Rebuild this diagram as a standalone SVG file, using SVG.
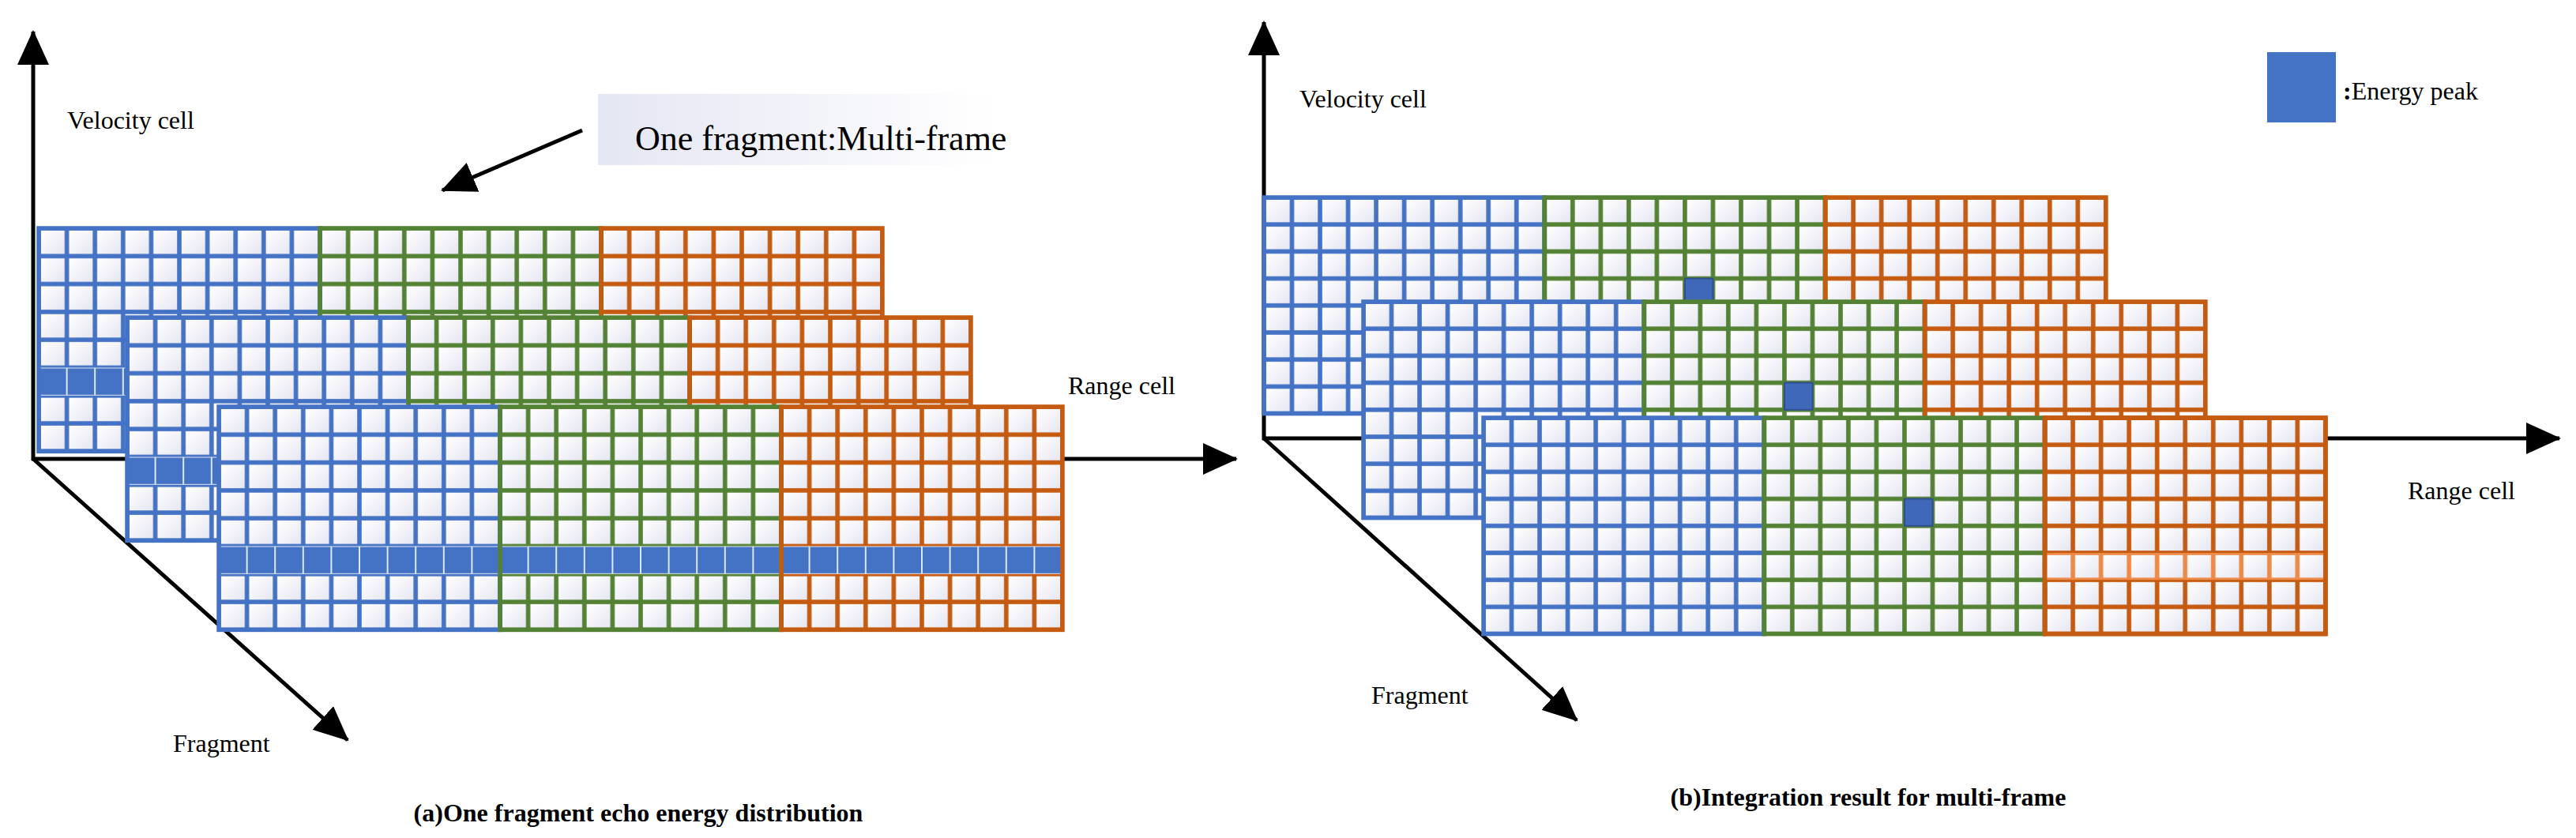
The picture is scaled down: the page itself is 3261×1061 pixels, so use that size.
<svg xmlns="http://www.w3.org/2000/svg" width="3261" height="1061" viewBox="0 0 3261 1061">
<style>
text{fill:#000}
.lbl{font-size:32px}
.cap{font-size:32px;font-weight:bold}
.ax{stroke:#000;stroke-width:5;fill:none}
</style>
<defs>
<linearGradient id="cellg" x1="0" y1="0" x2="1" y2="1"><stop offset="0" stop-color="#ffffff"/><stop offset="1" stop-color="#e6e6f2"/></linearGradient>
<linearGradient id="boxg" x1="0" y1="0" x2="1" y2="0"><stop offset="0" stop-color="#e4e6f3"/><stop offset="1" stop-color="#ffffff"/></linearGradient>
<marker id="ah" markerWidth="44" markerHeight="40" refX="42" refY="20" orient="auto" markerUnits="userSpaceOnUse" viewBox="0 0 44 40"><path d="M0,0 L44,20 L0,40 Z" fill="#000"/></marker>
<pattern id="pab" patternUnits="userSpaceOnUse" width="35.6" height="35.3"><rect width="35.6" height="35.3" fill="#4472C4"/><rect x="2.8" y="2.8" width="30" height="29.7" fill="url(#cellg)"/></pattern>
<pattern id="pag" patternUnits="userSpaceOnUse" width="35.6" height="35.3"><rect width="35.6" height="35.3" fill="#548235"/><rect x="2.8" y="2.8" width="30" height="29.7" fill="url(#cellg)"/></pattern>
<pattern id="pao" patternUnits="userSpaceOnUse" width="35.6" height="35.3"><rect width="35.6" height="35.3" fill="#C55A11"/><rect x="2.8" y="2.8" width="30" height="29.7" fill="url(#cellg)"/></pattern>
<pattern id="paf" patternUnits="userSpaceOnUse" width="35.6" height="35.3"><rect width="35.6" height="35.3" fill="#dfe6f3"/><rect x="1" y="1" width="33.6" height="33.3" fill="#4472C4"/></pattern>
<pattern id="pbb" patternUnits="userSpaceOnUse" width="35.53" height="34.2"><rect width="35.53" height="34.2" fill="#4472C4"/><rect x="2.8" y="2.8" width="29.9" height="28.6" fill="url(#cellg)"/></pattern>
<pattern id="pbg" patternUnits="userSpaceOnUse" width="35.53" height="34.2"><rect width="35.53" height="34.2" fill="#548235"/><rect x="2.8" y="2.8" width="29.9" height="28.6" fill="url(#cellg)"/></pattern>
<pattern id="pbo" patternUnits="userSpaceOnUse" width="35.53" height="34.2"><rect width="35.53" height="34.2" fill="#C55A11"/><rect x="2.8" y="2.8" width="29.9" height="28.6" fill="url(#cellg)"/></pattern>
<pattern id="pbl" patternUnits="userSpaceOnUse" width="35.53" height="34.2"><rect width="35.53" height="34.2" fill="#EE8A48"/><rect x="2.8" y="2.8" width="29.9" height="28.6" fill="url(#cellg)"/></pattern>
<g id="gridA">
<rect width="356" height="282.4" fill="url(#pab)"/>
<rect x="356" width="356" height="282.4" fill="url(#pag)"/>
<rect x="712" width="356" height="282.4" fill="url(#pao)"/>
<rect y="176.5" width="1068" height="35.3" fill="url(#paf)"/>
<rect width="356" height="282.4" fill="none" stroke="#4472C4" stroke-width="5.5"/>
<rect x="356" width="356" height="282.4" fill="none" stroke="#548235" stroke-width="5.5"/>
<rect x="712" width="356" height="282.4" fill="none" stroke="#C55A11" stroke-width="5.5"/>
</g>
<g id="gridB">
<rect width="355.3" height="273.6" fill="url(#pbb)"/>
<rect x="355.3" width="355.3" height="273.6" fill="url(#pbg)"/>
<rect x="710.6" width="355.3" height="273.6" fill="url(#pbo)"/>
<rect width="355.3" height="273.6" fill="none" stroke="#4472C4" stroke-width="5.5"/>
<rect x="355.3" width="355.3" height="273.6" fill="none" stroke="#548235" stroke-width="5.5"/>
<rect x="710.6" width="355.3" height="273.6" fill="none" stroke="#C55A11" stroke-width="5.5"/>
<rect x="533" y="102.6" width="35.5" height="34.2" fill="#4068B8" stroke="#2F4F8F" stroke-width="2"/>
</g>
</defs>

<g id="connectors">
<line class="ax" x1="42" y1="583" x2="42" y2="40" marker-end="url(#ah)"/>
<line class="ax" x1="40" y1="581" x2="1565" y2="581" marker-end="url(#ah)"/>
<line class="ax" x1="42" y1="581" x2="440" y2="937" marker-end="url(#ah)"/>
<line class="ax" x1="737" y1="165" x2="560" y2="241" marker-end="url(#ah)"/>
<line class="ax" x1="1600" y1="557" x2="1600" y2="28" marker-end="url(#ah)"/>
<line class="ax" x1="1598" y1="555" x2="3240" y2="555" marker-end="url(#ah)"/>
<line class="ax" x1="1600" y1="555" x2="1996" y2="912" marker-end="url(#ah)"/>
</g>

<g id="a-frame1"><use href="#gridA" transform="translate(49,289)"/></g>
<g id="a-frame2"><use href="#gridA" transform="translate(161,402)"/></g>
<g id="a-frame3"><use href="#gridA" transform="translate(277,515)"/></g>

<g id="b-frame1"><use href="#gridB" transform="translate(1600,250)"/></g>
<g id="b-frame2"><use href="#gridB" transform="translate(1726,382)"/></g>
<g id="b-frame3" transform="translate(1878,529)"><use href="#gridB"/><rect x="710.6" y="171" width="355.3" height="34.2" fill="url(#pbl)"/><rect x="710.6" width="355.3" height="273.6" fill="none" stroke="#C55A11" stroke-width="5.5"/></g>

<g font-family="Times New Roman, Liberation Serif, serif">
<g id="callout">
<rect x="757" y="119" width="500" height="90" fill="url(#boxg)"/>
<text x="804" y="190" font-size="44">One fragment:Multi-frame</text>
</g>
<g id="legend">
<rect x="2870" y="66" width="87" height="89" fill="#4472C4"/>
<text x="2966" y="126" class="lbl"><tspan font-weight="bold">:</tspan>Energy peak</text>
</g>
<g id="labels">
<text x="85" y="163" class="lbl">Velocity cell</text>
<text x="1352" y="499" class="lbl">Range cell</text>
<text x="219" y="952" class="lbl">Fragment</text>
<text x="808" y="1040" class="cap" text-anchor="middle">(a)One fragment echo energy distribution</text>
<text x="1645" y="136" class="lbl">Velocity cell</text>
<text x="3048" y="632" class="lbl">Range cell</text>
<text x="1736" y="891" class="lbl">Fragment</text>
<text x="2365" y="1020" class="cap" text-anchor="middle">(b)Integration result for multi-frame</text>
</g>
</g>
</svg>
